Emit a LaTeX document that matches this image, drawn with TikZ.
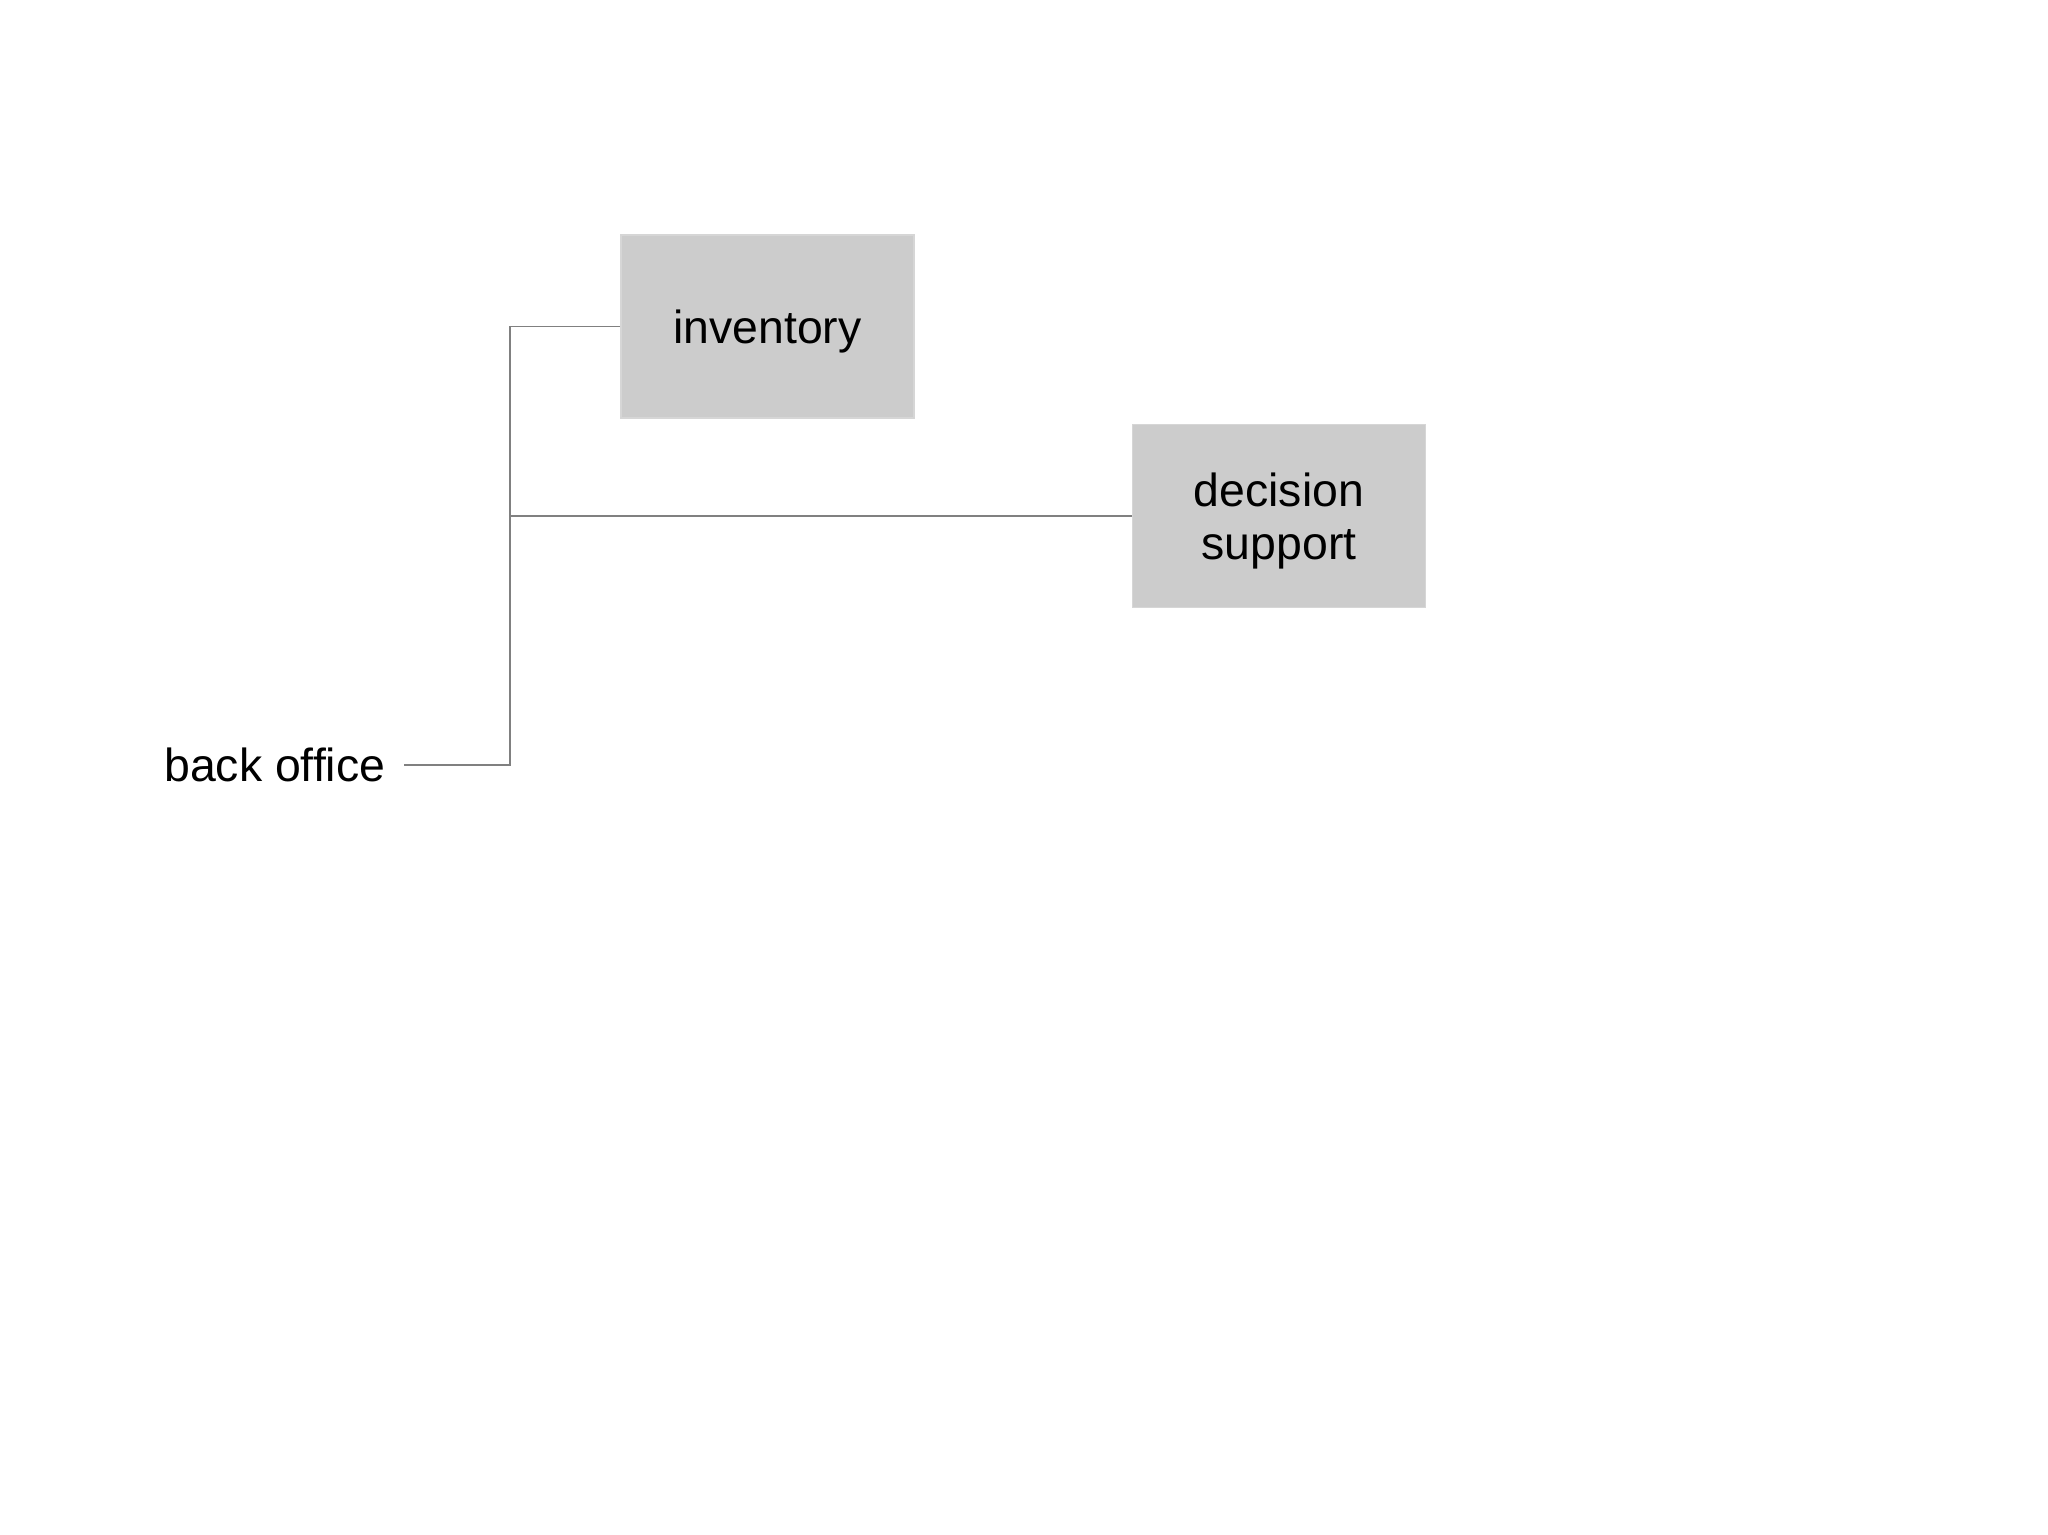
\documentclass[tikz,border=0pt]{standalone}
\usepackage{fontspec}
\setmainfont{Liberation Sans}
\usepackage{tikz}
\usetikzlibrary{positioning}
\definecolor{boxfill}{HTML}{CCCCCC}
\definecolor{boxedge}{HTML}{D6D6D6}
\definecolor{linkgray}{HTML}{808080}
\tikzset{
  unit/.style={draw=boxedge, fill=boxfill, minimum width=2.93cm, minimum height=1.83cm, align=center, inner sep=0pt, text depth=0pt, font=\fontsize{13.2}{15}\selectfont},
  label/.style={inner sep=0pt, font=\fontsize{13.2}{15}\selectfont},
  link/.style={draw=linkgray, line width=0.4pt}
}

\begin{document}
\begin{tikzpicture}
                \useasboundingbox (0, 0) rectangle (20.48, -15.35);
                \node[unit] (inv) at (7.675, -3.265) {inventory};
                \node[unit] (dec) at (12.79, -5.16) {decision\\support};
                \node[label, anchor=east] (bo) at (3.86, -7.65) {back office};
                \coordinate (fork) at (5.10, -7.65);
                \draw[link] ([xshift=0.18cm]bo.east) -- (fork) |- (inv.west);
                \draw[link] (fork) |- (dec.west);
            \end{tikzpicture}
\end{document}
